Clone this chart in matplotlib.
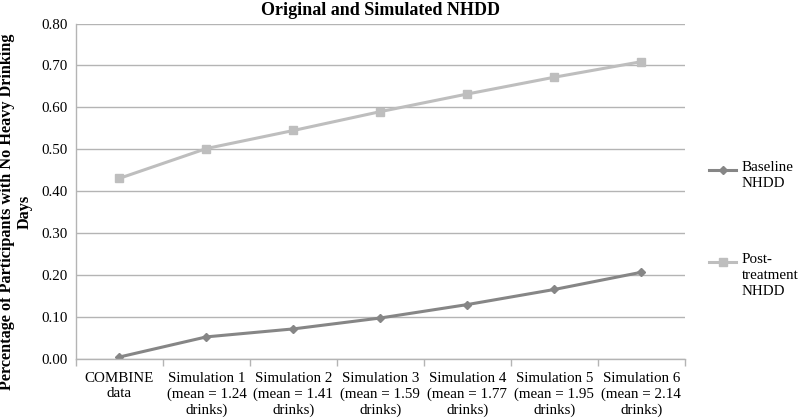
import numpy as np
import matplotlib
matplotlib.use("Agg")
import matplotlib.pyplot as plt
from matplotlib.lines import Line2D

plt.rcParams['font.family'] = ['Liberation Serif', 'DejaVu Serif']

categories = [
    "COMBINE\ndata",
    "Simulation 1\n(mean = 1.24\ndrinks)",
    "Simulation 2\n(mean = 1.41\ndrinks)",
    "Simulation 3\n(mean = 1.59\ndrinks)",
    "Simulation 4\n(mean = 1.77\ndrinks)",
    "Simulation 5\n(mean = 1.95\ndrinks)",
    "Simulation 6\n(mean = 2.14\ndrinks)",
]
baseline = [0.005, 0.053, 0.072, 0.098, 0.130, 0.166, 0.207]
post_treatment = [0.431, 0.502, 0.545, 0.590, 0.632, 0.672, 0.709]
y_ticks = [0.0, 0.1, 0.2, 0.3, 0.4, 0.5, 0.6, 0.7, 0.8]

base_color = '#868686'
post_color = '#bebebe'
grid_color = '#b4b4b4'
fs = 10.8

fig = plt.figure(figsize=(8, 4.2), dpi=100)
ax = fig.add_axes([0.095, 0.145, 0.761, 0.799])

x = np.arange(len(categories))
ax.plot(x, baseline, color=base_color, lw=2.2, marker='D', ms=4,
        solid_capstyle='butt')
ax.plot(x, post_treatment, color=post_color, lw=2.2, marker='s', ms=6,
        solid_capstyle='butt')

ax.set_xlim(-0.5, len(categories) - 0.5)
ax.set_ylim(0, 0.8)
ax.set_yticks(y_ticks)
ax.set_yticklabels([f"{v:.2f}" for v in y_ticks], fontsize=fs)
ax.set_xticks(x)
ax.set_xticklabels(categories, fontsize=fs, linespacing=1.28)
ax.set_xticks(np.arange(len(categories) + 1) - 0.5, minor=True)
ax.tick_params(axis='x', which='major', length=0, pad=9)
ax.tick_params(axis='x', which='minor', length=5, color=grid_color, width=1)
ax.tick_params(axis='y', length=0, pad=6)

ax.grid(axis='y', color=grid_color, lw=1)
ax.set_axisbelow(True)
for side in ['top', 'right']:
    ax.spines[side].set_visible(False)
for side in ['left', 'bottom']:
    ax.spines[side].set_color(grid_color)
    ax.spines[side].set_linewidth(1)

ax.set_title("Original and Simulated NHDD", fontsize=13, fontweight='bold', pad=6)
fig.text(16 / 800, 1 - 212 / 420,
         "Percentage of Participants with No Heavy Drinking\nDays",
         fontsize=11.7, fontweight='bold', linespacing=1.2, rotation=90,
         ha='center', va='center', multialignment='center')

# legend drawn by hand to keep handle next to first text line
entries = [
    (base_color, 'D', 4, "Baseline\nNHDD", 170),
    (post_color, 's', 6, "Post-\ntreatment\nNHDD", 262),
]
for color, mk, ms, label, ypix in entries:
    yf = 1 - ypix / 420
    fig.add_artist(Line2D([709 / 800, 736 / 800], [yf, yf], color=color, lw=2.2,
                          transform=fig.transFigure))
    fig.add_artist(Line2D([722.5 / 800], [yf], color=color, marker=mk, ms=ms,
                          transform=fig.transFigure))
    fig.text(742 / 800, yf + 9 / 420, label, fontsize=fs, va='top', ha='left',
             linespacing=1.28)

fig.savefig("out.png", dpi=100)
